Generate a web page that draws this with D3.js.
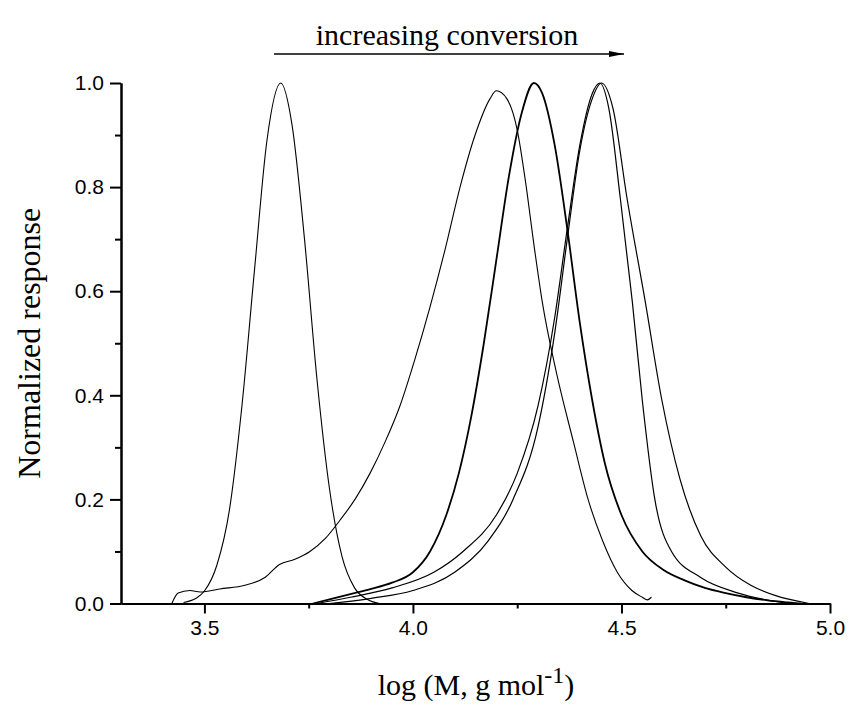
<!DOCTYPE html>
<html>
<head>
<meta charset="utf-8">
<script src="https://cdn.jsdelivr.net/npm/d3@7"></script>
<style>
  body { margin: 0; background: #fff; }
  svg { display: block; }
</style>
</head>
<body>
<div id="chart"></div>
<script>
// Values: [log M, normalized response]
const curveA = [
  [3.45, 0.002], [3.48, 0.010], [3.50, 0.024], [3.53, 0.074], [3.56, 0.18],
  [3.59, 0.38], [3.62, 0.64], [3.65, 0.89], [3.683, 1.0], [3.71, 0.92],
  [3.74, 0.70], [3.77, 0.43], [3.80, 0.22], [3.83, 0.09], [3.86, 0.03],
  [3.89, 0.008], [3.92, 0.0]
];
const curveB = [
  [3.422, 0.0], [3.437, 0.02], [3.465, 0.025], [3.49, 0.022], [3.537, 0.028],
  [3.597, 0.035], [3.645, 0.05], [3.68, 0.075], [3.717, 0.085], [3.753, 0.10],
  [3.79, 0.125], [3.825, 0.16], [3.861, 0.20], [3.897, 0.25], [3.933, 0.31],
  [3.969, 0.38], [4.005, 0.47], [4.041, 0.57], [4.077, 0.68], [4.113, 0.80],
  [4.149, 0.90], [4.185, 0.97], [4.20, 0.985], [4.225, 0.97], [4.25, 0.91],
  [4.27, 0.81], [4.29, 0.69], [4.31, 0.58], [4.345, 0.44], [4.385, 0.31],
  [4.42, 0.20], [4.455, 0.12], [4.49, 0.06], [4.525, 0.025], [4.55, 0.012],
  [4.562, 0.007], [4.572, 0.012]
];
const curveC = [
  [3.76, 0.0], [3.80, 0.008], [3.85, 0.018], [3.90, 0.028], [3.95, 0.04],
  [4.00, 0.06], [4.041, 0.10], [4.08, 0.17], [4.11, 0.25], [4.14, 0.36],
  [4.17, 0.50], [4.20, 0.66], [4.23, 0.82], [4.26, 0.94], [4.29, 1.0],
  [4.31, 0.98], [4.34, 0.88], [4.37, 0.72], [4.40, 0.54], [4.43, 0.39],
  [4.46, 0.27], [4.50, 0.17], [4.55, 0.10], [4.60, 0.065], [4.65, 0.045],
  [4.70, 0.03], [4.75, 0.02], [4.80, 0.012], [4.85, 0.006], [4.90, 0.002], [4.93, 0.0]
];
const curveD = [
  [3.77, 0.0], [3.85, 0.012], [3.95, 0.03], [4.05, 0.06], [4.12, 0.10],
  [4.20, 0.17], [4.25, 0.25], [4.30, 0.38], [4.34, 0.55], [4.37, 0.72],
  [4.40, 0.88], [4.43, 0.98], [4.448, 1.0], [4.47, 0.95], [4.497, 0.78],
  [4.526, 0.58], [4.55, 0.39], [4.58, 0.20], [4.62, 0.10], [4.69, 0.05],
  [4.78, 0.02], [4.90, 0.0]
];
const curveE = [
  [3.80, 0.0], [3.90, 0.01], [4.00, 0.025], [4.10, 0.06], [4.18, 0.12],
  [4.24, 0.20], [4.30, 0.34], [4.34, 0.52], [4.37, 0.70], [4.40, 0.87],
  [4.43, 0.97], [4.452, 1.0], [4.48, 0.95], [4.513, 0.78], [4.557, 0.58],
  [4.597, 0.39], [4.64, 0.24], [4.69, 0.13], [4.75, 0.07], [4.81, 0.035],
  [4.87, 0.015], [4.95, 0.0]
];
const xTicks = [3.5, 4.0, 4.5, 5.0];
const xMinor = [3.75, 4.25, 4.75];
const yTicks = [0.0, 0.2, 0.4, 0.6, 0.8, 1.0];
const yMinor = [0.1, 0.3, 0.5, 0.7, 0.9];

const W = 848, H = 704;
const margin = {top: 83, right: 18, bottom: 100.5, left: 121};
const width = W - margin.left - margin.right,
      height = H - margin.top - margin.bottom;

const svg = d3.select("#chart").append("svg")
    .attr("width", W).attr("height", H);

const g = svg.append("g")
    .attr("transform", `translate(${margin.left},${margin.top})`);

const x = d3.scaleLinear().domain([3.3, 5.0]).range([0, width]);
const y = d3.scaleLinear().domain([0, 1]).range([height, 0]);

// curves
const line = d3.line().x(d => x(d[0])).y(d => y(d[1])).curve(d3.curveMonotoneX);
const series = [
  {data: curveA, w: 1.1},
  {data: curveB, w: 1.1},
  {data: curveC, w: 1.8},
  {data: curveD, w: 1.2},
  {data: curveE, w: 1.2}
];
series.forEach(s => {
  g.append("path")
    .datum(s.data)
    .attr("fill", "none")
    .attr("stroke", "#000")
    .attr("stroke-width", s.w)
    .attr("stroke-linejoin", "round")
    .attr("d", line);
});

// axes
const tickFont = "Liberation Sans, Arial, sans-serif";
g.append("g").attr("transform", `translate(0,${height})`)
    .call(d3.axisBottom(x).tickValues(xTicks).tickFormat(d3.format(".1f")).tickSize(10).tickSizeOuter(0).tickPadding(7));
g.append("g").attr("transform", `translate(0,${height})`)
    .call(d3.axisBottom(x).tickValues(xMinor).tickFormat("").tickSize(5).tickSizeOuter(0));
g.append("g")
    .call(d3.axisLeft(y).tickValues(yTicks).tickFormat(d3.format(".1f")).tickSize(11).tickSizeOuter(0).tickPadding(6));
g.append("g")
    .call(d3.axisLeft(y).tickValues(yMinor).tickFormat("").tickSize(6).tickSizeOuter(0));

g.selectAll(".domain").attr("stroke-width", 2).attr("stroke", "#000");
g.selectAll(".tick line").attr("stroke-width", 2).attr("stroke", "#000");
g.selectAll(".tick text")
    .attr("fill", "#000")
    .style("font-family", tickFont)
    .style("font-size", "21px");

// titles
const serif = "Liberation Serif, Times New Roman, serif";
svg.append("text")
    .attr("x", 476).attr("y", 695)
    .attr("text-anchor", "middle")
    .style("font-family", serif)
    .style("font-size", "30px")
    .html('log (M, g mol<tspan dy="-12" font-size="24px">-1</tspan><tspan dy="12">)</tspan>');

svg.append("text")
    .attr("transform", `translate(40, ${margin.top + height / 2}) rotate(-90)`)
    .attr("text-anchor", "middle")
    .style("font-family", serif)
    .style("font-size", "32px")
    .text("Normalized response");

// annotation arrow
svg.append("defs").append("marker")
    .attr("id", "head")
    .attr("viewBox", "0 0 15 6")
    .attr("refX", 15).attr("refY", 3)
    .attr("markerWidth", 15).attr("markerHeight", 6)
    .attr("markerUnits", "userSpaceOnUse")
    .attr("orient", "auto")
    .append("path").attr("d", "M0,0L15,3L0,6Z").attr("fill", "#000");

svg.append("line")
    .attr("x1", 274).attr("x2", 624)
    .attr("y1", 54).attr("y2", 54)
    .attr("stroke", "#000").attr("stroke-width", 1.3)
    .attr("marker-end", "url(#head)");

svg.append("text")
    .attr("x", 447).attr("y", 45)
    .attr("text-anchor", "middle")
    .style("font-family", serif)
    .style("font-size", "30px")
    .text("increasing conversion");
</script>
</body>
</html>
